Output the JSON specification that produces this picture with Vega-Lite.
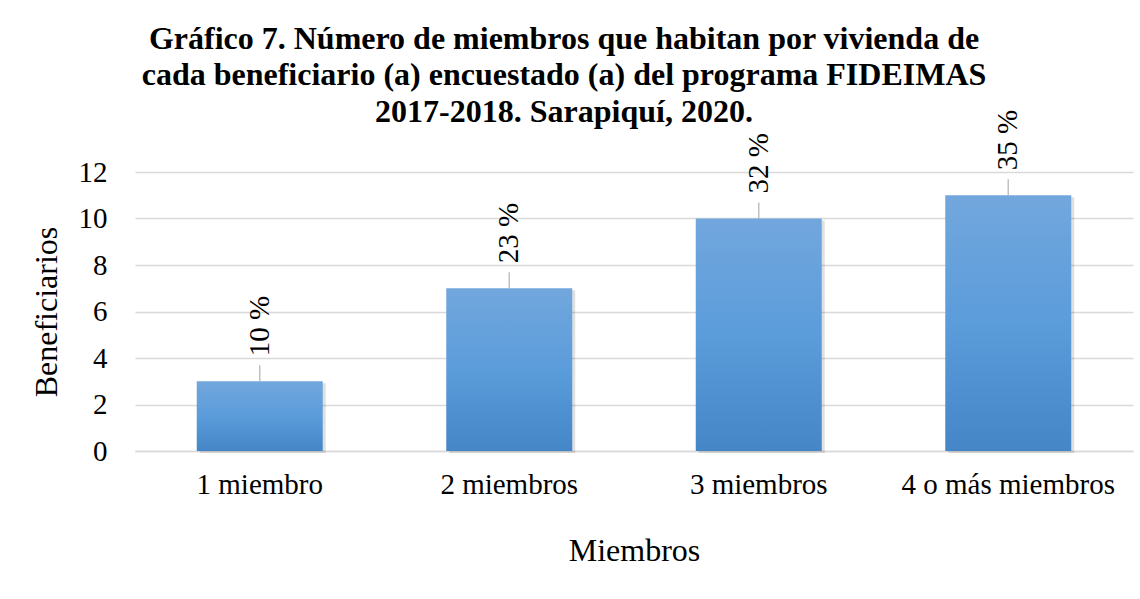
{
  "$schema": "https://vega.github.io/schema/vega-lite/v6.json",
  "width": 998,
  "height": 279,
  "autosize": {"type": "none"},
  "padding": {"left": 135, "top": 172, "right": 7, "bottom": 148},
  "background": "white",
  "config": {"view": {"stroke": null}},
  "title": {
    "text": ["Gráfico 7. Número de miembros que habitan por vivienda de", "cada beneficiario (a) encuestado (a) del programa FIDEIMAS", "2017-2018. Sarapiquí, 2020."],
    "font": "Liberation Serif",
    "fontSize": 32,
    "fontWeight": "bold",
    "color": "#000000",
    "lineHeight": 36.5,
    "anchor": "middle",
    "baseline": "bottom",
    "dx": -70,
    "offset": -51
  },
  "data": {
    "values": [
      {"miembros": "1 miembro", "beneficiarios": 3, "pct": "10 %"},
      {"miembros": "2 miembros", "beneficiarios": 7, "pct": "23 %"},
      {"miembros": "3 miembros", "beneficiarios": 10, "pct": "32 %"},
      {"miembros": "4 o más miembros", "beneficiarios": 11, "pct": "35 %"}
    ]
  },
  "encoding": {
    "x": {
      "field": "miembros",
      "type": "nominal",
      "sort": null,
      "scale": {"paddingInner": 0.495, "paddingOuter": 0.2475},
      "axis": {
        "title": "Miembros",
        "labelAngle": 0,
        "labelLimit": 0,
        "labelFont": "Liberation Serif",
        "labelFontSize": 29,
        "labelColor": "#000000",
        "labelPadding": 19,
        "ticks": false,
        "domain": true,
        "domainColor": "#d9d9d9",
        "domainWidth": 1.5,
        "titleFont": "Liberation Serif",
        "titleFontSize": 32,
        "titleFontWeight": "normal",
        "titleColor": "#000000",
        "titlePadding": 36
      }
    },
    "y": {
      "field": "beneficiarios",
      "type": "quantitative",
      "scale": {"domain": [0, 12], "nice": false},
      "axis": {
        "title": "Beneficiarios",
        "values": [0, 2, 4, 6, 8, 10, 12],
        "labelFont": "Liberation Serif",
        "labelFontSize": 29,
        "labelColor": "#000000",
        "labelPadding": 28,
        "ticks": false,
        "domain": false,
        "grid": true,
        "gridColor": "#d9d9d9",
        "gridWidth": 1.5,
        "titleFont": "Liberation Serif",
        "titleFontSize": 32,
        "titleFontWeight": "normal",
        "titleColor": "#000000",
        "titlePadding": 15
      }
    }
  },
  "layer": [
    {
      "mark": {"type": "bar", "color": "#000000", "opacity": 0.12, "xOffset": 3, "yOffset": 2}
    },
    {
      "mark": {
        "type": "bar",
        "color": {
          "gradient": "linear",
          "x1": 0, "y1": 0, "x2": 0, "y2": 1,
          "stops": [
            {"offset": 0, "color": "#72a7dd"},
            {"offset": 0.5, "color": "#5b9cdb"},
            {"offset": 1, "color": "#4486c6"}
          ]
        }
      }
    },
    {
      "mark": {"type": "tick", "orient": "vertical", "size": 16, "thickness": 1.5, "color": "#a6a6a6", "yOffset": -8}
    },
    {
      "mark": {"type": "text", "angle": 270, "align": "left", "baseline": "middle", "dx": 25, "font": "Liberation Serif", "fontSize": 29, "color": "#000000"},
      "encoding": {"text": {"field": "pct"}}
    }
  ]
}
